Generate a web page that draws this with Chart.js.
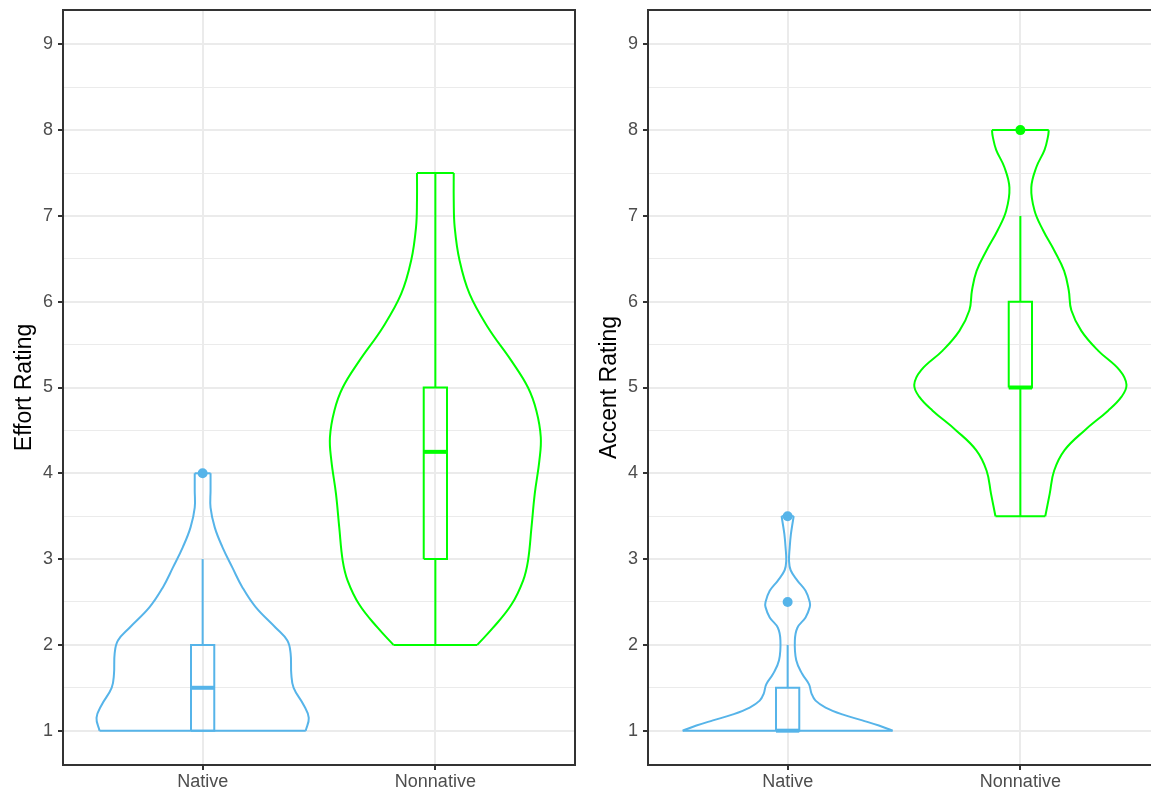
<!DOCTYPE html>
<html>
<head>
<meta charset="utf-8">
<script src="https://cdn.jsdelivr.net/npm/chart.js@4.4.1/dist/chart.umd.min.js"></script>
<style>
    html, body { margin: 0; padding: 0; background: #fff; overflow: hidden; width: 1151px; height: 791px; }
    .panel { position: absolute; top: 0; }
    #effortPanel { left: 0; }
    #accentPanel { left: 585px; }
</style>
</head>
<body>
<div class="panel" id="effortPanel"><canvas id="effortChart" width="580" height="791"></canvas></div>
<div class="panel" id="accentPanel"><canvas id="accentChart" width="580" height="791"></canvas></div>
<script>
// Groups on the x axis (positions 1 and 2)
var categories = ['Native', 'Nonnative'];

// Violin outlines: rating levels and half-width of the density at each level
var effortNativeY     = [1.0, 1.15, 1.3, 1.5, 1.66, 1.9, 2.05, 2.2, 2.44, 2.67, 2.9, 3.14, 3.37, 3.6, 3.8, 4.0];
var effortNativeWidth = [0.443, 0.456, 0.434, 0.391, 0.381, 0.378, 0.364, 0.314, 0.228, 0.171, 0.128, 0.085, 0.052, 0.034, 0.034, 0.034];

var effortNonnativeY     = [2.0, 2.2, 2.47, 2.75, 2.98, 3.37, 3.76, 4.15, 4.42, 4.73, 5.0, 5.31, 5.7, 6.09, 6.48, 6.87, 7.18, 7.5];
var effortNonnativeWidth = [0.180, 0.248, 0.327, 0.377, 0.398, 0.413, 0.427, 0.447, 0.453, 0.434, 0.398, 0.327, 0.226, 0.147, 0.104, 0.083, 0.079, 0.079];

var accentNativeY     = [1.0, 1.06, 1.12, 1.19, 1.27, 1.35, 1.43, 1.54, 1.66, 1.82, 2.05, 2.2, 2.32, 2.44, 2.5, 2.63, 2.75, 2.87, 2.98, 3.14, 3.29, 3.45, 3.5];
var accentNativeWidth = [0.451, 0.392, 0.321, 0.235, 0.163, 0.120, 0.103, 0.092, 0.063, 0.037, 0.031, 0.042, 0.077, 0.095, 0.095, 0.077, 0.042, 0.013, 0.006, 0.009, 0.014, 0.023, 0.026];

var accentNonnativeY     = [3.5, 3.76, 4.03, 4.27, 4.5, 4.73, 4.89, 5.03, 5.2, 5.43, 5.66, 5.9, 6.13, 6.36, 6.6, 6.83, 7.06, 7.33, 7.57, 7.77, 7.93, 8.0];
var accentNonnativeWidth = [0.107, 0.126, 0.145, 0.190, 0.276, 0.377, 0.434, 0.456, 0.427, 0.334, 0.262, 0.219, 0.208, 0.188, 0.145, 0.098, 0.061, 0.047, 0.069, 0.104, 0.119, 0.122];

// Boxplot stats: [lower whisker, Q1, median, Q3, upper whisker]
var effortNativeBox    = [1, 1, 1.5, 2, 3];
var effortNonnativeBox = [2, 3, 4.25, 5, 7.5];
var accentNativeBox    = [1, 1, 1, 1.5, 2];
var accentNonnativeBox = [3.5, 5, 5, 6, 7];

// Outlying points
var effortNativeOutliers    = [4];
var effortNonnativeOutliers = [];
var accentNativeOutliers    = [2.5, 3.5];
var accentNonnativeOutliers = [8];

// Axis ticks
var yTicks = [1, 2, 3, 4, 5, 6, 7, 8, 9];

var nativeColor = '#56B4E9';
var nonnativeColor = '#00FF00';
var BOX_HALF = 0.05;
var FONT = "'Liberation Sans', Arial, Helvetica, sans-serif";

function lineSet(points, color, width, tension) {
    return {
        data: points,
        showLine: true,
        borderColor: color,
        backgroundColor: color,
        borderWidth: width,
        pointRadius: 0,
        tension: tension,
        fill: false
    };
}

// Outline of one violin: two curved sides plus flat caps at both ends
function violinSets(cx, ys, hw, color) {
    var n = ys.length - 1;
    var right = ys.map(function (y, i) { return {x: cx + hw[i], y: y}; });
    var left = ys.map(function (y, i) { return {x: cx - hw[i], y: y}; });
    var bottom = [{x: cx - hw[0], y: ys[0]}, {x: cx + hw[0], y: ys[0]}];
    var top = [{x: cx - hw[n], y: ys[n]}, {x: cx + hw[n], y: ys[n]}];
    return [
        lineSet(right, color, 2, 0.4),
        lineSet(left, color, 2, 0.4),
        lineSet(bottom, color, 2, 0),
        lineSet(top, color, 2, 0)
    ];
}

// Box, median bar, whiskers and outliers
function boxSets(cx, stats, outliers, color) {
    var sets = [];
    var l = cx - BOX_HALF, r = cx + BOX_HALF;
    if (stats[0] < stats[1]) {
        sets.push(lineSet([{x: cx, y: stats[0]}, {x: cx, y: stats[1]}], color, 2, 0));
    }
    if (stats[4] > stats[3]) {
        sets.push(lineSet([{x: cx, y: stats[3]}, {x: cx, y: stats[4]}], color, 2, 0));
    }
    sets.push(lineSet([
        {x: l, y: stats[1]}, {x: r, y: stats[1]}, {x: r, y: stats[3]},
        {x: l, y: stats[3]}, {x: l, y: stats[1]}
    ], color, 2, 0));
    sets.push(lineSet([{x: l, y: stats[2]}, {x: r, y: stats[2]}], color, 4, 0));
    if (outliers.length) {
        sets.push({
            data: outliers.map(function (v) { return {x: cx, y: v}; }),
            pointRadius: 5,
            pointBorderWidth: 0,
            backgroundColor: color,
            borderColor: color,
            showLine: false
        });
    }
    return sets;
}

// Frame around the plotting area
var panelBorder = {
    id: 'panelBorder',
    afterDraw: function (chart) {
        var a = chart.chartArea;
        var ctx = chart.ctx;
        ctx.save();
        ctx.strokeStyle = '#333333';
        ctx.lineWidth = 2;
        ctx.strokeRect(a.left, a.top, a.right - a.left, a.bottom - a.top);
        ctx.restore();
    }
};

function isMajor(ctx) {
    return ctx.tick && Number.isInteger(ctx.tick.value);
}

function makeChart(canvasId, yTitle, datasets) {
    var ctx = document.getElementById(canvasId).getContext('2d');
    return new Chart(ctx, {
        type: 'scatter',
        data: { datasets: datasets },
        options: {
            responsive: false,
            animation: false,
            events: [],
            layout: { padding: { top: 10, right: 5, bottom: 0, left: 0 } },
            scales: {
                x: {
                    type: 'linear',
                    min: 0.4,
                    max: 2.6,
                    afterBuildTicks: function (scale) {
                        scale.ticks = categories.map(function (c, i) { return {value: i + 1}; });
                    },
                    afterFit: function (scale) {
                        scale.height = 26;
                        scale.paddingLeft = 0;
                        scale.paddingRight = 0;
                    },
                    border: { display: false },
                    grid: {
                        color: '#EBEBEB',
                        lineWidth: 2,
                        tickColor: '#333333',
                        tickLength: 5,
                        tickWidth: 2
                    },
                    ticks: {
                        autoSkip: false,
                        maxRotation: 0,
                        padding: 1,
                        color: '#4D4D4D',
                        font: { family: FONT, size: 18 },
                        callback: function (v) { return categories[v - 1]; }
                    }
                },
                y: {
                    type: 'linear',
                    min: 0.6,
                    max: 9.4,
                    afterBuildTicks: function (scale) {
                        var t = [];
                        yTicks.forEach(function (v) {
                            t.push({value: v});
                            if (v < 9) t.push({value: v + 0.5});
                        });
                        scale.ticks = t;
                    },
                    afterFit: function (scale) {
                        scale.width = 63;
                        scale.paddingTop = 0;
                        scale.paddingBottom = 0;
                    },
                    border: { display: false },
                    grid: {
                        color: '#EBEBEB',
                        lineWidth: function (c) { return isMajor(c) ? 2 : 1; },
                        tickColor: function (c) { return isMajor(c) ? '#333333' : 'rgba(0,0,0,0)'; },
                        tickLength: 5,
                        tickWidth: 2
                    },
                    ticks: {
                        autoSkip: false,
                        padding: 5,
                        color: '#4D4D4D',
                        font: { family: FONT, size: 18 },
                        callback: function (v) { return Number.isInteger(v) ? v : ''; }
                    },
                    title: {
                        display: true,
                        text: yTitle,
                        color: '#000000',
                        padding: { top: 11, bottom: 0 },
                        font: { family: FONT, size: 23 }
                    }
                }
            },
            plugins: {
                legend: { display: false },
                tooltip: { enabled: false }
            }
        },
        plugins: [panelBorder]
    });
}

var effortSets = []
    .concat(violinSets(1, effortNativeY, effortNativeWidth, nativeColor))
    .concat(violinSets(2, effortNonnativeY, effortNonnativeWidth, nonnativeColor))
    .concat(boxSets(1, effortNativeBox, effortNativeOutliers, nativeColor))
    .concat(boxSets(2, effortNonnativeBox, effortNonnativeOutliers, nonnativeColor));

var accentSets = []
    .concat(violinSets(1, accentNativeY, accentNativeWidth, nativeColor))
    .concat(violinSets(2, accentNonnativeY, accentNonnativeWidth, nonnativeColor))
    .concat(boxSets(1, accentNativeBox, accentNativeOutliers, nativeColor))
    .concat(boxSets(2, accentNonnativeBox, accentNonnativeOutliers, nonnativeColor));

makeChart('effortChart', 'Effort Rating', effortSets);
makeChart('accentChart', 'Accent Rating', accentSets);
</script>
</body>
</html>
